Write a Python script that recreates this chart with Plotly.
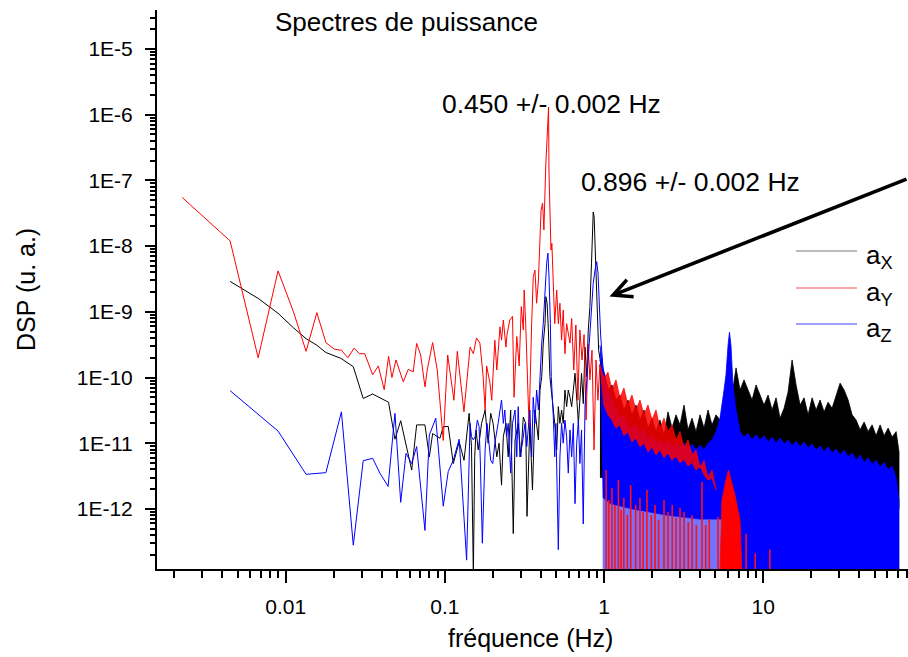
import plotly.graph_objects as go

FONT = "Liberation Sans, Arial, Helvetica, sans-serif"
FLOOR = 1e-13  # value below the lower edge of the y axis (deep dips)

# ---------------- resolved part of the spectra (f < ~1 Hz) ----------------
red_f = [0.00224, 0.00448, 0.00672, 0.00896, 0.0112, 0.01344, 0.0157, 0.0179, 0.0202, 0.0224,
         0.0246, 0.0269, 0.0291, 0.0314, 0.0352, 0.0382, 0.0416, 0.0443, 0.0465, 0.0493,
         0.0548, 0.0589, 0.0633, 0.0665, 0.0705, 0.075, 0.0775, 0.0838, 0.0896, 0.0977,
         0.1042, 0.114, 0.1197, 0.1318, 0.144, 0.151, 0.158, 0.166, 0.174, 0.179,
         0.183, 0.192, 0.197, 0.206, 0.212, 0.222, 0.227, 0.233, 0.242, 0.246,
         0.256, 0.266, 0.272, 0.283, 0.293, 0.302, 0.311, 0.315, 0.322, 0.333,
         0.338, 0.350, 0.359, 0.368, 0.377, 0.387, 0.396, 0.402, 0.411, 0.419,
         0.430, 0.439, 0.448, 0.451, 0.457, 0.464, 0.470, 0.480, 0.490, 0.504,
         0.516, 0.528, 0.541, 0.554, 0.568, 0.582, 0.611, 0.626, 0.645, 0.665,
         0.685, 0.705, 0.727, 0.749, 0.772, 0.795, 0.815, 0.840, 0.865, 0.890,
         0.915, 0.942]
red_psd = [5.5e-8, 1.2e-8, 2.0e-10, 4.2e-9, 1.0e-9, 2.5e-10, 9.7e-10, 3.4e-10, 2.7e-10, 2.6e-10,
           2.0e-10, 2.8e-10, 2.3e-10, 2.3e-10, 1.1e-10, 1.5e-10, 6.5e-11, 2.1e-10, 1.0e-10, 1.85e-10,
           8.6e-11, 1.33e-10, 1.22e-10, 3.3e-10, 2.2e-10, 7.2e-11, 1.3e-10, 3.4e-10, 1.3e-10, 1.1e-11,
           2.2e-10, 4.5e-11, 2.5e-10, 3.0e-11, 2.9e-10, 2.3e-10, 4.0e-10, 3.35e-10, 1.03e-10, 3.2e-11,
           1.5e-10, 8.2e-11, 4.5e-11, 3.7e-10, 1.3e-10, 5.9e-10, 3.7e-10, 7.5e-10, 2.9e-10, 4.6e-10,
           7.5e-10, 8.5e-10, 5.0e-11, 4.2e-10, 1.5e-10, 1.2e-9, 5.3e-10, 2.15e-9, 6.6e-10, 6.5e-11,
           1.8e-11, 5.3e-10, 3.4e-9, 4.3e-9, 1.35e-9, 3.05e-9, 1.1e-8, 3.5e-8, 4.5e-8, 1.76e-8,
           1.6e-7, 5.85e-7, 1.3e-6, 1.26e-7, 1.76e-8, 8.7e-9, 1.1e-8, 3.4e-9, 6.6e-10, 2.15e-9,
           6.6e-10, 1.35e-9, 3.7e-10, 1.06e-9, 2.3e-10, 6.6e-10, 3.35e-10, 7.9e-10, 1.3e-10, 6.3e-10,
           4.5e-11, 5.3e-10, 1.85e-10, 4.5e-10, 2.25e-11, 3.2e-10, 9.2e-11, 2.6e-10, 7.9e-12, 1.85e-10,
           4.5e-11, 1.6e-10]

black_f = [0.00448, 0.00672, 0.00896, 0.0112, 0.01344, 0.0157, 0.0179, 0.0222, 0.0266, 0.0307,
           0.0352, 0.0443, 0.0486, 0.0528, 0.0619, 0.0665, 0.075, 0.0799, 0.0838, 0.0931,
           0.0977, 0.105, 0.113, 0.123, 0.132, 0.142, 0.147, 0.151, 0.154, 0.157,
           0.162, 0.170, 0.179, 0.187, 0.194, 0.201, 0.212, 0.219, 0.227, 0.233,
           0.242, 0.250, 0.259, 0.269, 0.276, 0.289, 0.300, 0.311, 0.322, 0.328,
           0.342, 0.355, 0.368, 0.377, 0.387, 0.396, 0.406, 0.415, 0.426, 0.431,
           0.439, 0.447, 0.457, 0.466, 0.480, 0.490, 0.504, 0.516, 0.528, 0.541,
           0.554, 0.568, 0.582, 0.596, 0.611, 0.626, 0.657, 0.690, 0.722, 0.740,
           0.759, 0.777, 0.796, 0.815, 0.834, 0.855, 0.866, 0.882, 0.902, 0.925,
           0.955]
black_psd = [2.9e-9, 1.6e-9, 9.5e-10, 5.7e-10, 3.9e-10, 3.1e-10, 2.4e-10, 1.96e-10, 1.46e-10, 4.8e-11,
             5.6e-11, 4.2e-11, 1.15e-11, 2.2e-11, 3.9e-12, 1.9e-11, 1.9e-11, 6.2e-12, 1.4e-11, 1.19e-11,
             1.78e-11, 1.8e-11, 4.9e-12, 1.05e-11, 5.5e-12, 2.85e-11, 8.9e-12, 1.0e-13, 6.2e-12, 1.59e-11,
             7.9e-12, 2.0e-11, 3.2e-11, 1.0e-11, 2.85e-11, 2.0e-11, 6.2e-12, 1.0e-11, 2.3e-12, 1.26e-11,
             2.0e-11, 6.2e-12, 3.2e-11, 4.2e-13, 1.12e-11, 2.0e-11, 6.2e-12, 2.5e-11, 2.0e-11, 7.7e-13,
             2.0e-11, 1.94e-12, 3.2e-11, 2.0e-11, 1.12e-11, 6.45e-11, 1.03e-10, 3.35e-10, 6.6e-10, 1.7e-9,
             1.35e-9, 5.3e-10, 1.03e-10, 6.45e-11, 3.2e-11, 2.0e-11, 7.9e-12, 3.6e-11, 2.0e-11, 3.2e-11,
             2.0e-11, 6.45e-11, 3.6e-11, 6.45e-11, 5.0e-11, 3.6e-11, 1.16e-10, 2.0e-11, 1.16e-10, 4.0e-11,
             2.9e-10, 1.03e-10, 5.3e-10, 1.2e-9, 5.5e-9, 3.3e-8, 2.8e-8, 6.9e-9, 8.5e-10, 2.6e-10,
             1.6e-10]

blue_f = [0.00448, 0.00896, 0.01344, 0.0179, 0.0224, 0.0266, 0.0307, 0.0352, 0.0391, 0.044,
          0.0486, 0.0528, 0.057, 0.0619, 0.0665, 0.075, 0.0799, 0.0877, 0.0977, 0.105,
          0.113, 0.123, 0.137, 0.142, 0.144, 0.147, 0.151, 0.155, 0.160, 0.164,
          0.167, 0.172, 0.179, 0.184, 0.190, 0.194, 0.200, 0.206, 0.216, 0.227,
          0.233, 0.238, 0.244, 0.250, 0.259, 0.266, 0.276, 0.283, 0.289, 0.296,
          0.307, 0.319, 0.327, 0.342, 0.351, 0.359, 0.368, 0.377, 0.387, 0.396,
          0.406, 0.415, 0.426, 0.436, 0.444, 0.451, 0.460, 0.466, 0.480, 0.490,
          0.498, 0.508, 0.516, 0.528, 0.541, 0.554, 0.568, 0.582, 0.596, 0.611,
          0.626, 0.641, 0.657, 0.673, 0.690, 0.705, 0.722, 0.740, 0.759, 0.777,
          0.796, 0.815, 0.834, 0.855, 0.877, 0.899, 0.916, 0.930, 0.951, 0.980]
blue_psd = [6.3e-11, 1.53e-11, 3.36e-12, 3.56e-12, 3.0e-11, 2.8e-13, 5.4e-12, 5.9e-12, 3.5e-12, 2.2e-12,
            2.85e-11, 1.26e-12, 7.0e-12, 4.9e-12, 8.9e-12, 4.7e-13, 1.33e-11, 2.4e-11, 1.1e-12, 3.7e-12,
            5.5e-12, 1.15e-11, 1.66e-13, 1.26e-11, 2.0e-11, 1.26e-11, 1.12e-11, 1.26e-11, 2.25e-11, 1.8e-11,
            5.5e-12, 3.0e-13, 7.9e-12, 2.0e-11, 1.0e-11, 5.5e-12, 4.9e-12, 1.0e-11, 2.0e-11, 4.55e-11,
            2.0e-11, 3.2e-11, 1.26e-11, 2.0e-11, 3.5e-12, 2.0e-11, 3.2e-11, 6.2e-12, 3.6e-11, 6.2e-12,
            1.0e-11, 2.0e-11, 8.9e-12, 3.2e-11, 6.2e-12, 5.0e-11, 2.0e-11, 6.45e-11, 3.2e-11, 1.16e-10,
            3.35e-10, 6.6e-10, 2.15e-9, 5.5e-9, 7.8e-9, 3.4e-9, 6.6e-10, 1.03e-10, 2.5e-11, 6.2e-12,
            2.0e-11, 1.1e-12, 2.4e-13, 6.2e-12, 2.0e-11, 1.0e-11, 2.25e-11, 1.26e-11, 3.5e-12, 1.59e-11,
            6.2e-12, 2.0e-11, 1.2e-12, 1.0e-11, 2.25e-11, 4.9e-12, 1.59e-11, 5.9e-13, 3.6e-11, 8.2e-11,
            2.0e-10, 5.3e-10, 1.5e-9, 2.7e-9, 4.3e-9, 5.8e-9, 3.9e-9, 1.5e-9, 4.6e-10, 1.6e-10]

# ---------------- dense part (f > ~1 Hz): envelopes ----------------
dense_f = [0.942, 0.998, 1.058, 1.121, 1.188, 1.258, 1.333, 1.413, 1.497, 1.586,
           1.681, 1.781, 1.887, 2.0, 2.119, 2.245, 2.379, 2.521, 2.671, 2.830,
           2.999, 3.178, 3.367, 3.568, 3.780, 4.006, 4.244, 4.497, 4.765, 5.049,
           5.350, 5.669, 6.007, 6.365, 6.744, 7.146, 7.572, 8.023, 8.501, 9.008,
           9.545, 10.11, 10.72, 11.36, 12.03, 12.75, 13.51, 14.31, 15.17, 16.07,
           17.03, 18.04, 19.12, 20.26, 21.46, 22.74, 24.10, 25.53, 27.05, 28.67,
           30.37, 32.18, 34.10, 36.13, 38.29, 40.57, 42.99, 45.55, 48.26, 51.14,
           54.19, 57.42, 60.84, 64.47, 68.31, 71.2]
black_top = [1.85e-10, 1.2e-10, 6.45e-11, 7.7e-11, 4.55e-11, 5.4e-11, 3.2e-11, 4.55e-11, 2.7e-11, 3.8e-11,
             2.25e-11, 3.2e-11, 1.7e-11, 2.4e-11, 1.5e-11, 2.25e-11, 1.3e-11, 3.0e-11, 1.7e-11, 2.7e-11,
             1.9e-11, 3.8e-11, 1.6e-11, 2.4e-11, 1.5e-11, 2.7e-11, 1.7e-11, 3.2e-11, 1.9e-11, 2.7e-11,
             2.25e-11, 3.8e-11, 4.55e-11, 5.4e-11, 1.4e-10, 6.45e-11, 9.2e-11, 6.45e-11, 4.55e-11, 7.7e-11,
             5.4e-11, 3.8e-11, 5.4e-11, 3.2e-11, 4.9e-11, 2.4e-11, 3.4e-11, 6.0e-11, 1.85e-10, 7.7e-11,
             3.8e-11, 4.9e-11, 2.7e-11, 4.9e-11, 3.2e-11, 4.55e-11, 3.0e-11, 4.2e-11, 3.4e-11, 5.4e-11,
             8.2e-11, 6.45e-11, 4.55e-11, 2.7e-11, 2.25e-11, 1.6e-11, 2.1e-11, 1.5e-11, 1.9e-11, 1.3e-11,
             1.9e-11, 1.3e-11, 1.7e-11, 1.24e-11, 1.5e-11, 7.35e-12]
black_low_f = [0.942, 7.35, 71.2]
black_low = [3e-12, 3e-12, 1.0e-12]

blue_band_f = [0.942, 0.998, 1.058, 1.121, 1.188, 1.258, 1.333, 1.413, 1.497, 1.586,
               1.681, 1.781, 1.887, 2.0, 2.119, 2.245, 2.379, 2.521, 2.671, 2.830,
               2.999, 3.178, 3.367, 3.568, 3.780, 4.006, 4.244, 4.497, 4.765, 5.049,
               5.350, 5.669, 5.83, 6.007, 6.133, 6.268, 6.45, 6.744, 7.146, 7.572,
               8.023, 8.501, 9.008, 9.545, 10.11, 10.72, 11.36, 12.03, 12.75, 13.51,
               14.31, 15.17, 16.07, 17.03, 18.04, 19.12, 20.26, 21.46, 22.74, 24.10,
               25.53, 27.05, 28.67, 30.37, 32.18, 34.10, 36.13, 38.29, 40.57, 42.99,
               45.55, 48.26, 51.14, 54.19, 57.42, 60.84, 64.47, 68.31, 71.2]
blue_band_top = [3.1e-10, 1.2e-10, 6.9e-11, 4.55e-11, 3.2e-11, 2.4e-11, 2.7e-11, 1.9e-11, 1.7e-11, 1.95e-11,
                 1.4e-11, 1.6e-11, 1.12e-11, 1.3e-11, 1.0e-11, 1.12e-11, 9.1e-12, 1.12e-11, 8.8e-12, 1.04e-11,
                 8.5e-12, 1.0e-11, 7.9e-12, 9.7e-12, 7.9e-12, 9.4e-12, 7.9e-12, 1.0e-11, 1.12e-11, 1.5e-11,
                 2.4e-11, 6.45e-11, 1.1e-10, 3.1e-10, 4.9e-10, 3.1e-10, 7.7e-11, 3.2e-11, 1.5e-11, 1.24e-11,
                 1.4e-11, 1.12e-11, 1.35e-11, 1.12e-11, 1.3e-11, 1.04e-11, 1.24e-11, 1.0e-11, 1.2e-11, 9.7e-12,
                 1.12e-11, 9.1e-12, 1.08e-11, 8.8e-12, 1.04e-11, 8.5e-12, 9.7e-12, 7.9e-12, 9.1e-12, 7.35e-12,
                 8.8e-12, 7.1e-12, 8.2e-12, 6.6e-12, 7.9e-12, 6.2e-12, 7.1e-12, 5.5e-12, 6.6e-12, 5.1e-12,
                 6.0e-12, 4.8e-12, 5.5e-12, 4.3e-12, 5.1e-12, 3.9e-12, 4.5e-12, 2.95e-12, 1.36e-12]
blue_low_f = [0.98, 1.1, 1.5, 2.5, 4.0, 5.5, 7.0, 7.35]
blue_low = [1.5e-12, 1.2e-12, 1.0e-12, 8e-13, 7e-13, 7e-13, 5e-13, FLOOR]

red_band_f = dense_f[:30]
red_band_top = [1.55e-10, 9.8e-11, 1.2e-10, 6.45e-11, 9.2e-11, 4.9e-11, 6.9e-11, 3.8e-11, 5.4e-11, 3.2e-11,
                4.55e-11, 2.7e-11, 3.8e-11, 2.25e-11, 3.2e-11, 1.7e-11, 2.4e-11, 1.5e-11, 1.9e-11, 1.12e-11,
                1.5e-11, 8.5e-12, 1.12e-11, 6.6e-12, 7.9e-12, 4.2e-12, 5.5e-12, 2.95e-12, 3.9e-12, 1.94e-12]
red_band_low = [1.55e-10, 3.8e-11, 2.7e-11, 2.25e-11, 1.7e-11, 1.9e-11, 1.3e-11, 1.5e-11, 1.04e-11, 1.2e-11,
                8.8e-12, 1.0e-11, 7.35e-12, 8.8e-12, 6.6e-12, 7.9e-12, 6.0e-12, 7.1e-12, 5.5e-12, 6.4e-12,
                5.0e-12, 5.7e-12, 4.5e-12, 5.1e-12, 3.9e-12, 4.5e-12, 3.3e-12, 2.75e-12, 2.95e-12, 1.94e-12]

# red dips/peaks reaching down into the blue noise floor (frequency, top of the red stroke)
red_spike_f = [1.03, 1.07, 1.12, 1.17, 1.23, 1.28, 1.33, 1.40, 1.47, 1.58,
               1.68, 1.76, 1.86, 1.98, 2.09, 2.20, 2.38, 2.52, 2.68, 2.83,
               3.00, 3.18, 3.38, 3.57, 3.80, 4.12, 4.35, 4.58, 5.2, 7.8,
               8.9, 11.0]
red_spike_top = [3.9e-12, 1.36e-12, 2.08e-12, 1.15e-12, 2.75e-12, 9.6e-13, 1.47e-12, 8.1e-13, 2.3e-12, 1.15e-12,
                 1.47e-12, 9.0e-13, 1.94e-12, 8.1e-13, 1.15e-12, 6.8e-13, 1.36e-12, 9.0e-13, 1.15e-12, 7.3e-13,
                 1.03e-12, 9.0e-13, 6.3e-13, 8.1e-13, 5.7e-13, 2.57e-12, 5.7e-13, 6.8e-13, 7.5e-13, 4.2e-13,
                 2.1e-13, 2.4e-13]

red_peak6_f = [5.346, 5.502, 5.83, 6.045, 6.268, 6.64, 7.14, 7.349]
red_peak6_psd = [FLOOR, 1.36e-12, 2.75e-12, 3.9e-12, 2.75e-12, 1.63e-12, 6.8e-13, FLOOR]

# ---------------- axes ----------------
x_tickvals = [0.01, 0.1, 1, 10]
x_ticktext = ["0.01", "0.1", "1", "10"]
y_tickvals = [1e-12, 1e-11, 1e-10, 1e-9, 1e-8, 1e-7, 1e-6, 1e-5]
y_ticktext = ["1E-12", "1E-11", "1E-10", "1E-9", "1E-8", "1E-7", "1E-6", "1E-5"]
x_minor = [m * 10.0 ** e for e in range(-3, 2) for m in range(2, 10)]
y_minor = [m * 10.0 ** e for e in range(-13, -4) for m in range(2, 10)]


def poly(f_top, v_top, f_bot, v_bot):
    return list(f_top) + list(f_bot)[::-1], list(v_top) + list(v_bot)[::-1]


def area(fig, xs, ys, fillcolor, linecolor=None, width=0.0):
    fig.add_trace(go.Scatter(x=xs, y=ys, mode="lines", fill="toself", fillcolor=fillcolor,
                             line=dict(color=linecolor or fillcolor, width=width),
                             hoverinfo="skip", showlegend=False))


fig = go.Figure()

# resolved lines
for f, v, c in [(black_f, black_psd, "#000000"), (red_f, red_psd, "#ff0000"), (blue_f, blue_psd, "#0000ff")]:
    fig.add_trace(go.Scatter(x=f, y=v, mode="lines", line=dict(color=c, width=1),
                             hoverinfo="skip", showlegend=False))

# dense bands
area(fig, *poly(dense_f, black_top, black_low_f, black_low), "#000000", width=0.8)
area(fig, *poly(blue_band_f, blue_band_top, blue_low_f + [blue_band_f[-1]], blue_low + [FLOOR]),
     "#0000ff", width=0.8)
area(fig, *poly(blue_low_f, blue_low, [blue_low_f[0], blue_low_f[-1]], [FLOOR, FLOOR]),
     "rgba(0,0,255,0.55)")

# red strokes in the noise floor
sx, sy = [], []
for f, v in zip(red_spike_f, red_spike_top):
    sx += [f, f, None]
    sy += [FLOOR, v, None]
fig.add_trace(go.Scatter(x=sx, y=sy, mode="lines", line=dict(color="#ff1010", width=1.6),
                         hoverinfo="skip", showlegend=False))

area(fig, *poly(red_band_f, red_band_top, red_band_f, red_band_low), "rgba(255,0,0,0.85)",
     linecolor="rgba(255,0,0,0.9)", width=0.8)
area(fig, red_peak6_f, red_peak6_psd, "#ff0000", width=0.8)

PW, PH, L, T = 751.0, 559.0, 157.0, 10.0


def px(x):
    return (x - L) / PW


def py(y):
    return (T + PH - y) / PH


ann = []
ann.append(dict(text="Spectres de puissance", x=px(273), y=py(22), xref="paper", yref="paper",
                xanchor="left", yanchor="middle", showarrow=False, font=dict(size=26, family=FONT, color="black")))
ann.append(dict(text="0.450 +/- 0.002 Hz", x=px(551), y=py(104), xref="paper", yref="paper",
                xanchor="center", yanchor="middle", showarrow=False, font=dict(size=26.5, family=FONT, color="black")))
ann.append(dict(text="0.896 +/- 0.002 Hz", x=px(690), y=py(182), xref="paper", yref="paper",
                xanchor="center", yanchor="middle", showarrow=False, font=dict(size=26.5, family=FONT, color="black")))
ann.append(dict(text="DSP (u. a.)", x=px(26), y=py(290), xref="paper", yref="paper", textangle=-90,
                xanchor="center", yanchor="middle", showarrow=False, font=dict(size=25, family=FONT, color="black")))
ann.append(dict(text="fréquence (Hz)", x=px(530), y=py(638), xref="paper", yref="paper",
                xanchor="center", yanchor="middle", showarrow=False, font=dict(size=25, family=FONT, color="black")))
# arrow pointing at the 0.896 Hz peak
ann.append(dict(text="", x=px(609.5), y=py(296.5), xref="paper", yref="paper", showarrow=True,
                ax=306, ay=-118, arrowhead=5, arrowsize=1.0, arrowwidth=3.6, arrowcolor="black", standoff=0))

# legend drawn like the original (long sample lines, subscripted labels)
shapes = []
legend_items = [("a<sub>X</sub>", "#7a7a7a", 251), ("a<sub>Y</sub>", "#ff5050", 288), ("a<sub>Z</sub>", "#4040ff", 324)]
for label, col, yy in legend_items:
    shapes.append(dict(type="line", xref="paper", yref="paper", x0=px(796), x1=px(857), y0=py(yy), y1=py(yy),
                       line=dict(color=col, width=1.2)))
    ann.append(dict(text=label, x=px(864), y=py(yy + 5), xref="paper", yref="paper", xanchor="left",
                    yanchor="middle", showarrow=False, font=dict(size=26, family=FONT, color="black")))

axis_common = dict(type="log", showline=True, linecolor="black", linewidth=2, ticks="outside",
                   tickcolor="black", tickwidth=2, showgrid=False, zeroline=False, mirror=False,
                   tickfont=dict(size=21, family=FONT, color="black"), tickmode="array")

fig.update_layout(
    width=908, height=657,
    margin=dict(l=157, r=0, t=10, b=88, pad=0),
    paper_bgcolor="white", plot_bgcolor="white",
    showlegend=False,
    xaxis=dict(axis_common, range=[-2.808, 1.909], tickvals=x_tickvals, ticktext=x_ticktext,
               ticklen=12, ticklabelstandoff=6,
               minor=dict(tickmode="array", tickvals=x_minor, ticks="outside", ticklen=7,
                          tickwidth=1.5, tickcolor="black")),
    yaxis=dict(axis_common, range=[-12.915, -4.406], tickvals=y_tickvals, ticktext=y_ticktext,
               ticklen=10, ticklabelstandoff=8,
               minor=dict(tickmode="array", tickvals=y_minor, ticks="outside", ticklen=5,
                          tickwidth=1.5, tickcolor="black")),
    annotations=ann, shapes=shapes,
)

fig.write_html("out.html")
